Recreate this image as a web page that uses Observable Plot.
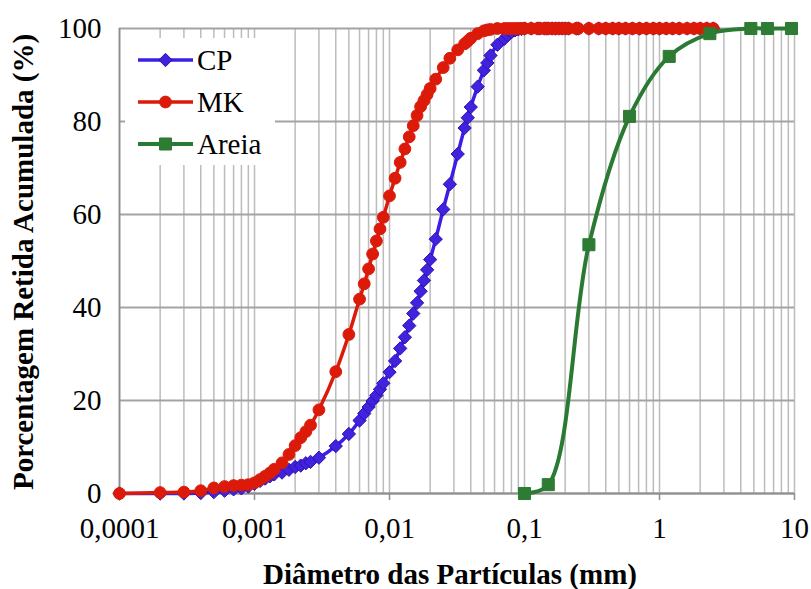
<!DOCTYPE html>
<html>
<head>
<meta charset="utf-8">
<script src="https://cdn.jsdelivr.net/npm/d3@7"></script>
<script src="https://cdn.jsdelivr.net/npm/@observablehq/plot@0.6"></script>
<style>
  body { margin: 0; background: #fff; }
  #chart { width: 811px; height: 589px; }
</style>
</head>
<body>
<div id="chart"></div>
<script>
// Laser granulometer size classes (µm)
const laserSizesUm = [
  0.1, 0.2, 0.3, 0.4, 0.5, 0.6, 0.7, 0.8, 0.9,
  1.0, 1.1, 1.2, 1.3, 1.4, 1.6, 1.8, 2.0, 2.2, 2.4, 2.6,
  3, 4, 5, 6, 6.5, 7, 7.5, 8, 8.5, 9,
  10, 11, 12, 13, 14, 15, 16, 17, 18, 19, 20,
  22, 25, 28, 32, 36, 38, 40, 45, 50, 53, 56, 63, 71, 75, 80, 85, 90, 95,
  100, 112, 125, 130, 140, 145, 150, 160, 170, 180, 190, 200, 212, 242, 250, 300, 355, 400, 450, 500,
  560, 630, 710, 800, 900, 1000, 1120, 1250, 1400, 1600, 1800, 2000, 2240, 2500
];

// Cumulative percentage, cement (CP)
const cpValues = [
  0, 0, 0, 0.1, 0.3, 0.6, 0.9, 1.1, 1.5,
  2.1, 2.7, 3.2, 3.7, 4.1, 4.5, 5.1, 5.7, 6.0, 6.5, 6.8,
  7.7, 10.2, 12.8, 15.7, 17.2, 18.6, 19.9, 21.1, 22.4, 23.7,
  26.1, 28.5, 31.2, 33.6, 36.1, 38.7, 41.0, 43.5, 45.8, 48.1, 50.3,
  54.7, 61.1, 66.5, 73.0, 78.6, 80.8, 83.1, 87.5, 91.0, 92.6, 94.2, 96.5, 97.8, 98.5, 99.2, 99.6, 99.8, 99.9,
  100, 100, 100, 100, 100, 100, 100, 100, 100, 100, 100, 100, 100, 100, 100, 100, 100, 100, 100, 100,
  100, 100, 100, 100, 100, 100, 100, 100, 100, 100, 100, 100, 100, 100
];

// Cumulative percentage, metakaolin (MK)
const mkValues = [
  0, 0.2, 0.3, 0.6, 1.2, 1.5, 1.7, 1.8, 1.9,
  2.3, 3.0, 3.7, 4.4, 5.2, 6.6, 8.4, 10.3, 12.0, 13.3, 14.7,
  18.0, 26.2, 34.2, 41.8, 45.1, 48.3, 51.5, 54.3, 56.9, 59.4,
  64.0, 67.8, 71.2, 74.1, 76.7, 79.1, 81.3, 83.2, 84.5, 85.8, 87.1,
  89.1, 91.6, 93.6, 95.4, 96.7, 97.3, 97.9, 98.9, 99.5, 99.7, 99.8, 100, 100, 100, 100, 100, 100, 100,
  100, 100, 100, 100, 100, 100, 100, 100, 100, 100, 100, 100, 100, 100, 100, 100, 100, 100, 100, 100,
  100, 100, 100, 100, 100, 100, 100, 100, 100, 100, 100, 100, 100, 100
];

// Sieve analysis of the sand (mm)
const sandSievesMm = [0.1, 0.15, 0.3, 0.6, 1.18, 2.36, 4.75, 6.3, 9.5];
const sandValues = [0, 1.9, 53.5, 81.1, 94.0, 98.9, 100, 100, 100];

// Axis ticks
const majorTicks = [0.0001, 0.001, 0.01, 0.1, 1, 10];
const majorTickLabels = ["0,0001", "0,001", "0,01", "0,1", "1", "10"];
const gridSteps = [1, 2, 3, 4, 5, 6, 7, 8, 9];
const yTicks = [0, 20, 40, 60, 80, 100];

const seriesNames = ["CP", "MK", "Areia"];
const xTitle = "Diâmetro das Partículas (mm)";
const yTitle = "Porcentagem Retida Acumulada (%)";

const FONT = "'Liberation Serif', 'Times New Roman', serif";
const FS = 29;

const minorTicks = majorTicks.slice(0, -1)
  .flatMap(t => gridSteps.map(k => +(k * t).toPrecision(6)))
  .concat([majorTicks[majorTicks.length - 1]]);

const cp = laserSizesUm.map((d, i) => ({x: d / 1000, y: cpValues[i]}));
const mk = laserSizesUm.map((d, i) => ({x: d / 1000, y: mkValues[i]}));
const sand = sandSievesMm.map((d, i) => ({x: d, y: sandValues[i]}));

const styles = {
  CP:    {line: "#3a1fe6", fill: "#4322de", stroke: "#2c12b4", symbol: "diamond2", r: 6, width: 3.5},
  MK:    {line: "#dc1a0a", fill: "#dc1a0a", stroke: "#dc1a0a", symbol: "circle",   r: 5.9, width: 3.5},
  Areia: {line: "#2b7a34", fill: "#2e7b33", stroke: "#2e7b33", symbol: "square",   r: 6.8, width: 4}
};

const labelOf = new Map(majorTicks.map((t, i) => [t, majorTickLabels[i]]));

function series(data, s) {
  return [
    Plot.line(data, {x: "x", y: "y", stroke: s.line, strokeWidth: s.width, curve: "catmull-rom"}),
    Plot.dot(data, {x: "x", y: "y", symbol: s.symbol, r: s.r, fill: s.fill, stroke: s.stroke, strokeWidth: 1})
  ];
}

const chart = Plot.plot({
  width: 811,
  height: 589,
  marginLeft: 119,
  marginRight: 17,
  marginTop: 28,
  marginBottom: 96,
  style: {fontFamily: FONT, fontSize: FS + "px", background: "#fff", color: "#000", overflow: "visible"},
  x: {type: "log", domain: [0.0001, 10]},
  y: {domain: [0, 100]},
  marks: [
    Plot.gridX(minorTicks, {stroke: "#bcbcbc", strokeOpacity: 1, strokeWidth: 1.5}),
    Plot.gridY(yTicks, {stroke: "#a3a3a3", strokeOpacity: 1, strokeWidth: 1.8}),
    Plot.ruleX([majorTicks[0]], {stroke: "#8f8f8f", strokeWidth: 1.8}),
    Plot.ruleY([0], {stroke: "#8f8f8f", strokeWidth: 1.8}),
    Plot.axisX(majorTicks, {tickFormat: d => labelOf.get(d), tickSize: 7, tickPadding: 17, stroke: "#8f8f8f", strokeWidth: 1.5, label: null, fontSize: FS}),
    Plot.axisY(yTicks, {tickSize: 0, tickPadding: 18, label: null, fontSize: FS}),
    ...series(cp, styles.CP),
    ...series(mk, styles.MK),
    ...series(sand, styles.Areia)
  ]
});

document.getElementById("chart").appendChild(chart);

// Axis titles and legend
const svg = d3.select(chart);
svg.append("text")
  .attr("x", 450).attr("y", 584)
  .attr("text-anchor", "middle")
  .attr("font-family", FONT)
  .attr("font-weight", "bold").attr("font-size", FS)
  .attr("fill", "#000")
  .text(xTitle);
svg.append("text")
  .attr("transform", "translate(33,262) rotate(-90)")
  .attr("text-anchor", "middle")
  .attr("font-family", FONT)
  .attr("font-weight", "bold").attr("font-size", FS)
  .attr("fill", "#000")
  .text(yTitle);

const legend = svg.append("g");
legend.append("rect")
  .attr("x", 125).attr("y", 38).attr("width", 150).attr("height", 127)
  .attr("fill", "#fff").style("fill", "#fff");
const symbolTypes = {diamond2: d3.symbolDiamond2, circle: d3.symbolCircle, square: d3.symbolSquare};
seriesNames.forEach((name, i) => {
  const s = styles[name];
  const y = 60 + i * 42;
  legend.append("line")
    .attr("x1", 138).attr("x2", 193).attr("y1", y).attr("y2", y)
    .attr("stroke", s.line).attr("stroke-width", s.width);
  legend.append("path")
    .attr("transform", `translate(165.5,${y})`)
    .attr("d", d3.symbol(symbolTypes[s.symbol], Math.PI * s.r * s.r)())
    .attr("fill", s.fill).attr("stroke", s.stroke);
  legend.append("text")
    .attr("x", 197).attr("y", y + 10)
    .attr("text-anchor", "start")
    .attr("font-family", FONT)
    .attr("font-size", FS).attr("fill", "#000")
    .text(name);
});
</script>
</body>
</html>
